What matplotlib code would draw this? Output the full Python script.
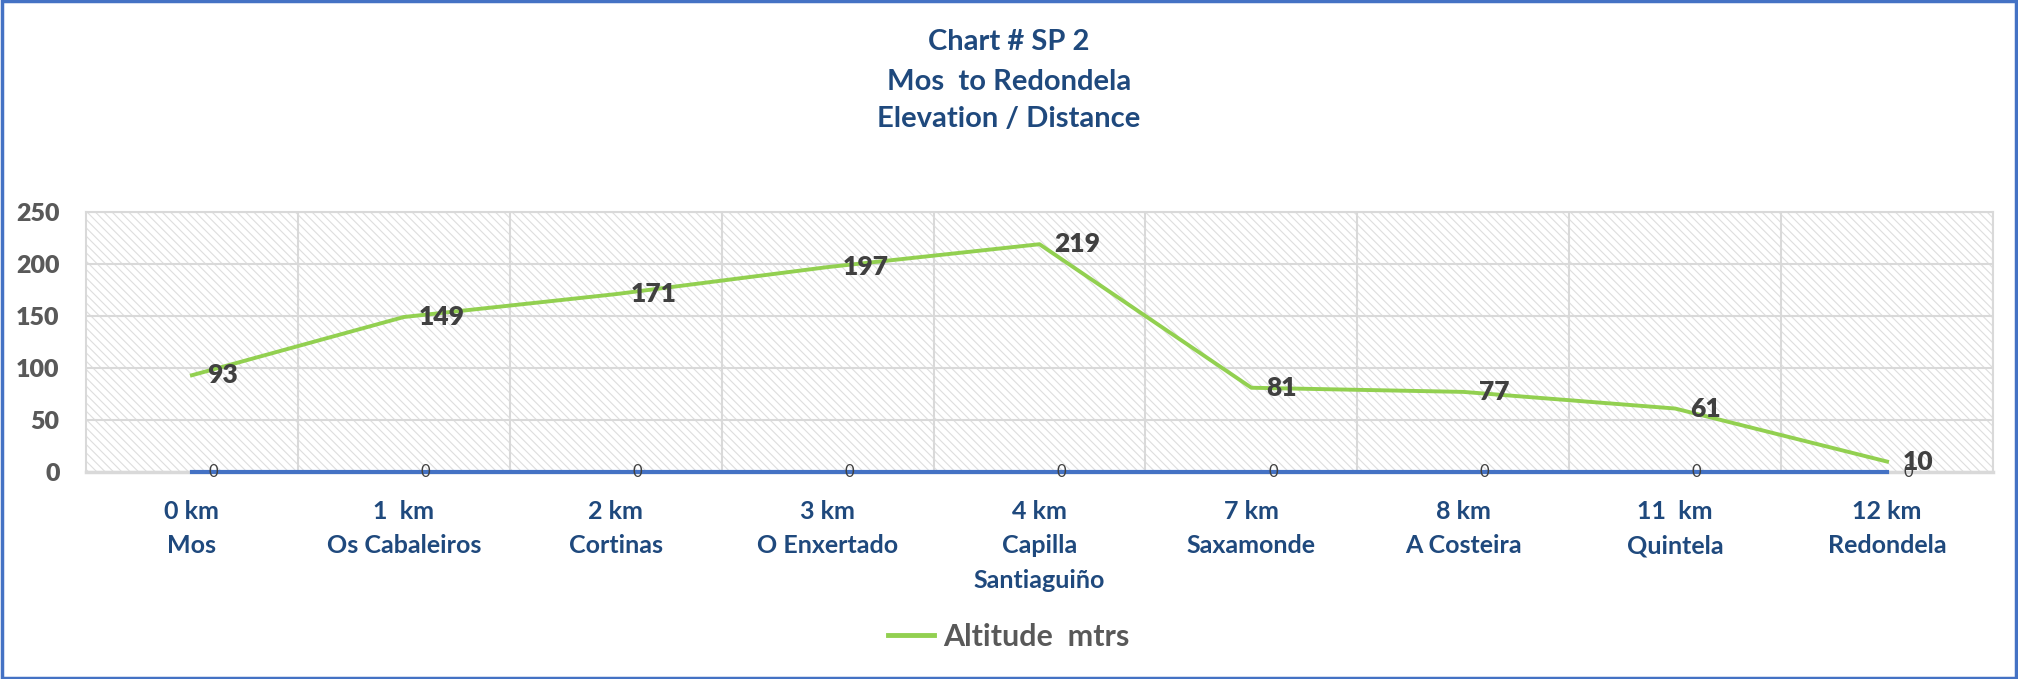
import matplotlib
matplotlib.use('Agg')
import matplotlib.pyplot as plt
from matplotlib.patches import Rectangle

places = ['0 km\nMos', '1  km\nOs Cabaleiros', '2 km\nCortinas', '3 km\nO Enxertado',
          '4 km\nCapilla\nSantiaguiño', '7 km\nSaxamonde', '8 km\nA Costeira',
          '11  km\nQuintela', '12 km\nRedondela']
altitude = [93, 149, 171, 197, 219, 81, 77, 61, 10]
baseline = [0, 0, 0, 0, 0, 0, 0, 0, 0]
yticks = [0, 50, 100, 150, 200, 250]

plt.rcParams['font.family'] = ['Lato', 'DejaVu Sans']
plt.rcParams['hatch.linewidth'] = 0.8

navy = '#1F497D'
gray_txt = '#595959'
grid_c = '#D9D9D9'
green = '#92D050'
blue = '#4472C4'

fig = plt.figure(figsize=(20.18, 6.79), dpi=100)
ax = fig.add_axes([0.0426, 0.3049, 0.9450, 0.3829])

x = list(range(len(places)))

# hatched plot area
ax.add_patch(Rectangle((0, 0), 1, 1, transform=ax.transAxes, fill=False,
                       hatch='\\\\\\\\', edgecolor='#DEDEDE', lw=0, zorder=0))

ax.set_xlim(-0.5, len(places) - 0.5)
ax.set_ylim(0, 250)
ax.set_yticks(yticks)
ax.set_xticks(x)
ax.set_xticklabels(places, color=navy, fontsize=18, fontweight='bold', linespacing=1.6)
ax.tick_params(axis='x', length=0, pad=20)
ax.tick_params(axis='y', length=0, pad=19, labelsize=18, labelcolor=gray_txt)
for t in ax.get_yticklabels():
    t.set_fontweight('heavy')

for yv in yticks:
    ax.axhline(yv, color=grid_c, lw=1.5, zorder=1)
for xv in [i + 0.5 for i in x]:
    ax.axvline(xv, color=grid_c, lw=1.5, zorder=1)
for s in ax.spines.values():
    s.set_color(grid_c)
    s.set_linewidth(1.5)
ax.spines['bottom'].set_linewidth(2.5)

ax.plot(x, baseline, color=blue, lw=3, zorder=3, clip_on=False)
ax.plot(x, altitude, color=green, lw=2.8, zorder=4, label='Altitude  mtrs')

for xi, v in zip(x, baseline):
    ax.annotate(str(v), (xi, v), xytext=(12, 0), textcoords='offset points',
                ha='left', va='center', fontsize=12, color='#404040', zorder=5)
for xi, v in zip(x, altitude):
    ax.annotate(str(v), (xi, v), xytext=(11, 0), textcoords='offset points',
                ha='left', va='center', fontsize=19, fontweight='heavy',
                color='#404040', zorder=6)

fig.text(0.5, 1 - 42 / 679, 'Chart # SP 2', ha='center', va='center',
         fontsize=21, fontweight='bold', color=navy)
fig.text(0.5, 1 - 82 / 679, 'Mos  to Redondela', ha='center', va='center',
         fontsize=21, fontweight='bold', color=navy)
fig.text(0.5, 1 - 119 / 679, 'Elevation / Distance', ha='center', va='center',
         fontsize=21, fontweight='bold', color=navy)

leg = fig.legend(loc='center', bbox_to_anchor=(0.5, 1 - 637 / 679), frameon=False,
                 handlelength=1.5, handletextpad=0.3, prop={'size': 22, 'weight': 'bold'})
for t in leg.get_texts():
    t.set_color(gray_txt)
for h in leg.get_lines():
    h.set_linewidth(3.5)

fig.patches.append(Rectangle((0.001, 0.002), 0.998, 0.996, transform=fig.transFigure,
                             fill=False, edgecolor=blue, lw=2.5))

fig.savefig('out.png', dpi=100)
